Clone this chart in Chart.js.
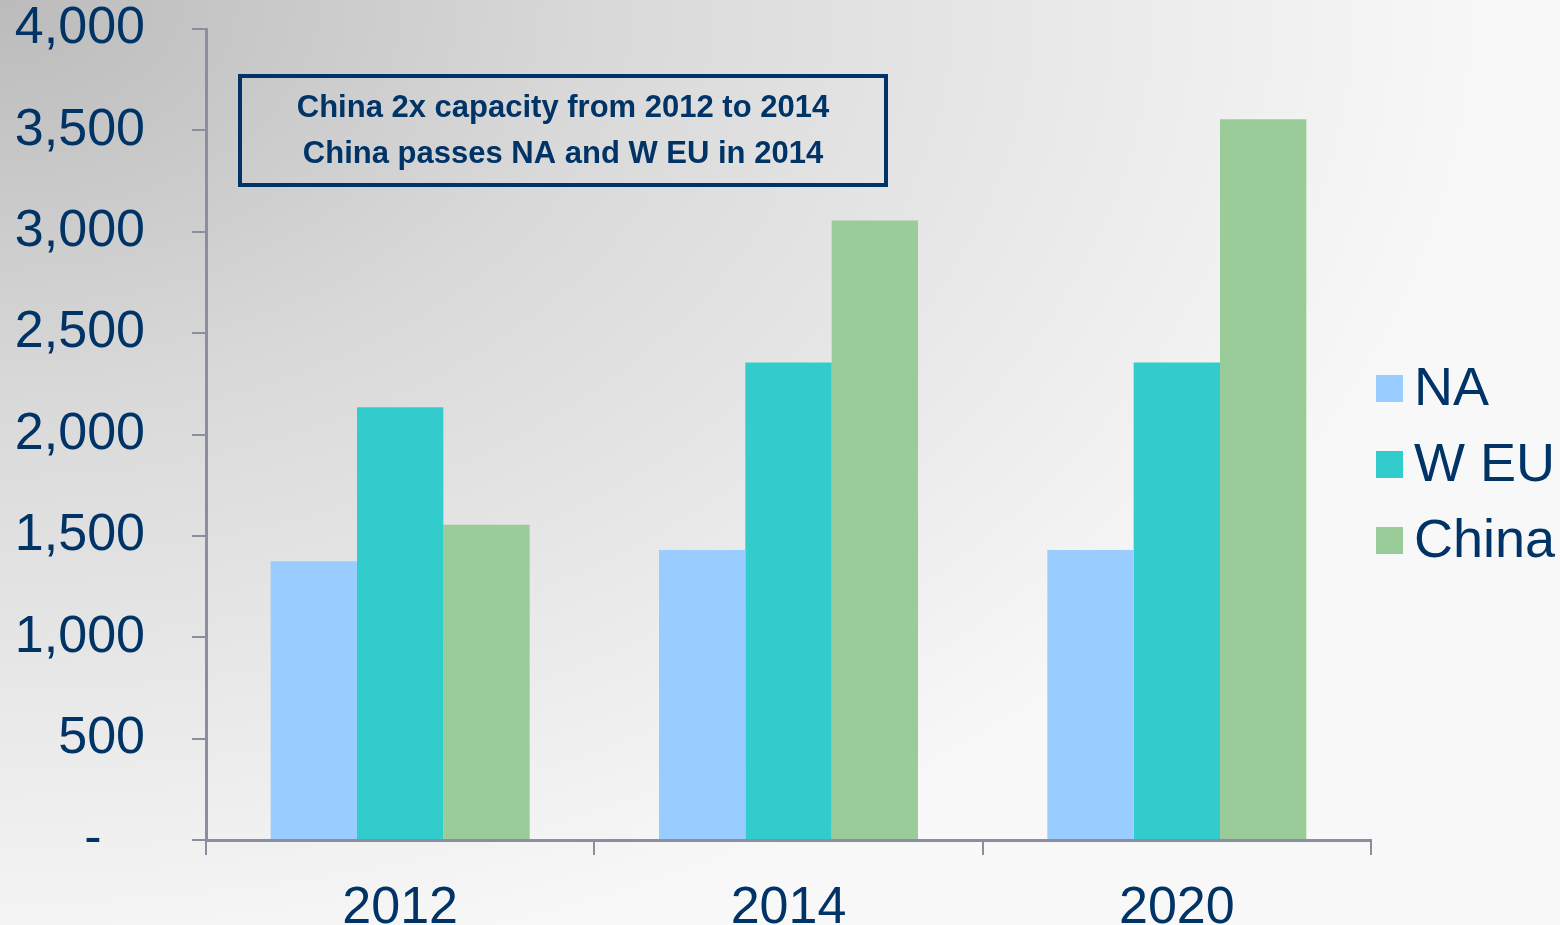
<!DOCTYPE html>
<html>
<head>
<meta charset="utf-8">
<script src="https://cdn.jsdelivr.net/npm/chart.js@4/dist/chart.umd.min.js"></script>
<style>
  html, body { margin: 0; padding: 0; background: #f4f4f4; }
  #wrap { width: 1560px; height: 925px; position: relative; }
</style>
</head>
<body>
<div id="wrap"><canvas id="myChart" width="1560" height="925"></canvas></div>
<script>
var years = ["2012", "2014", "2020"];
var naValues = [1375, 1430, 1430];
var weuValues = [2135, 2355, 2355];
var chinaValues = [1555, 3055, 3555];
var seriesNames = ["NA", "W EU", "China"];
var seriesColors = ["#99CCFF", "#33CCCC", "#99CC99"];
var noteLines = ["China 2x capacity from 2012 to 2014", "China passes NA and W EU in 2014"];

var navy = "#003366";
var axisGrey = "#8a8fa0";

// gradient backdrop, darker in the top left corner (stretched along the top)
var backdrop = {
    id: "backdrop",
    beforeDraw: function(chart) {
        var c = chart.ctx;
        c.save();
        c.scale(1, 1 / 1.5);
        var g = c.createRadialGradient(0, 0, 0, 0, 0, 1500);
        g.addColorStop(0, "#bbbbbb");
        g.addColorStop(0.4, "#d9d9d9");
        g.addColorStop(0.75, "#ebebeb");
        g.addColorStop(1, "#f8f8f8");
        c.fillStyle = g;
        c.fillRect(0, 0, chart.width, chart.height * 1.5);
        c.restore();
    }
};

// boxed note + legend on the right
var extras = {
    id: "extras",
    afterDraw: function(chart) {
        var c = chart.ctx;
        c.save();
        c.strokeStyle = navy;
        c.lineWidth = 4;
        c.strokeRect(240, 76, 646, 109);
        c.fillStyle = navy;
        c.font = "bold 31px 'Liberation Sans', Arial";
        c.textAlign = "center";
        c.textBaseline = "middle";
        c.fillText(noteLines[0], 563, 108);
        c.fillText(noteLines[1], 563, 154);

        c.textAlign = "left";
        c.font = "54px 'Liberation Sans', Arial";
        chart.data.datasets.forEach(function(ds, i) {
            var y = 388 + i * 76;
            c.fillStyle = ds.backgroundColor;
            c.fillRect(1376, y - 13, 27, 27);
            c.fillStyle = navy;
            c.fillText(ds.label, 1414, y + 2);
        });
        c.restore();
    }
};

var ctx = document.getElementById("myChart").getContext("2d");
var myChart = new Chart(ctx, {
    type: "bar",
    data: {
        labels: years,
        datasets: [
            { label: seriesNames[0], data: naValues, backgroundColor: seriesColors[0] },
            { label: seriesNames[1], data: weuValues, backgroundColor: seriesColors[1] },
            { label: seriesNames[2], data: chinaValues, backgroundColor: seriesColors[2] }
        ]
    },
    options: {
        responsive: false,
        animation: false,
        layout: { padding: { top: 29, right: 189, bottom: 0, left: 0 } },
        datasets: { bar: { barPercentage: 1, categoryPercentage: 0.667 } },
        plugins: { legend: { display: false }, tooltip: { enabled: false } },
        scales: {
            x: {
                afterFit: function(s) { s.height = 85; s.paddingLeft = 0; s.paddingRight = 0; },
                grid: { drawOnChartArea: false, drawTicks: true, tickLength: 15, color: axisGrey, lineWidth: 2 },
                border: { display: true, color: axisGrey, width: 3 },
                ticks: { color: navy, padding: 22, font: { family: "'Liberation Sans', Arial", size: 52 } }
            },
            y: {
                min: 0,
                max: 4000,
                afterFit: function(s) { s.width = 206; s.paddingTop = 0; s.paddingBottom = 0; },
                grid: { drawOnChartArea: false, drawTicks: true, tickLength: 14, color: axisGrey, lineWidth: 2 },
                border: { display: true, color: axisGrey, width: 3 },
                ticks: {
                    stepSize: 500,
                    color: navy,
                    padding: 47,
                    font: { family: "'Liberation Sans', Arial", size: 52 },
                    callback: function(v) { return v === 0 ? "-   " : v.toLocaleString("en-US"); }
                }
            }
        }
    },
    plugins: [backdrop, extras]
});
</script>
</body>
</html>
